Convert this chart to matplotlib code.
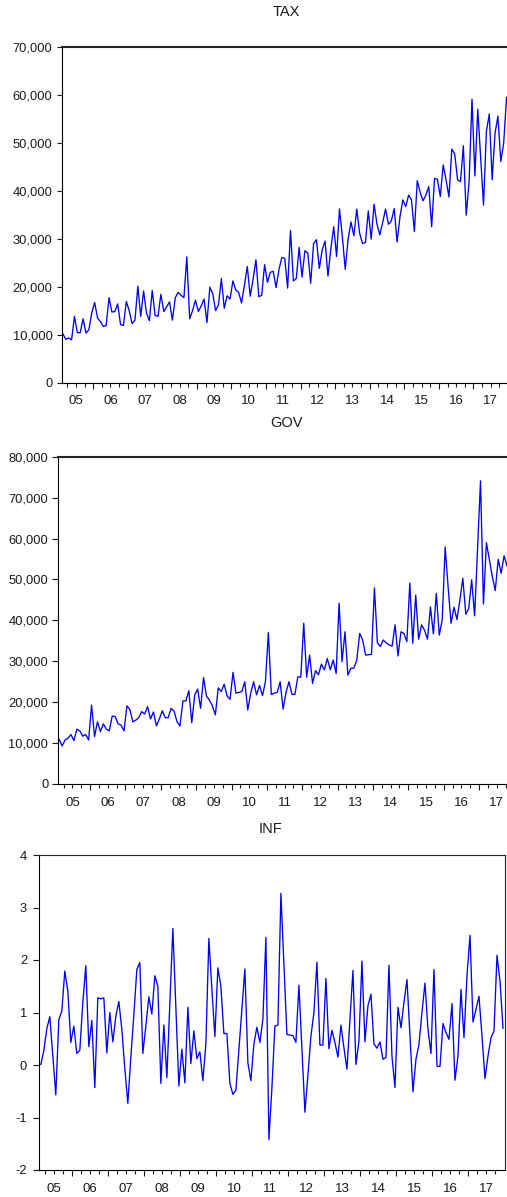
import numpy as np
import matplotlib
matplotlib.use("Agg")
import matplotlib.pyplot as plt
from matplotlib.ticker import FuncFormatter

plt.rcParams['font.family'] = ['Liberation Sans', 'DejaVu Sans']
plt.rcParams['axes.unicode_minus'] = False

# ---------------- data (monthly, 2005M2 .. 2017M12) ----------------
year_labels = ['05', '06', '07', '08', '09', '10', '11', '12', '13', '14', '15', '16', '17']

tax = [10100, 9000, 9300, 8900, 13800, 10400, 10400, 13300, 10300, 11000,
       14500, 16700, 13500, 12700, 11700, 11900, 17700, 14700, 14800, 16400,
       12100, 11900, 16900, 15000, 12300, 13000, 20100, 13800, 19100, 14500,
       12900, 19200, 14000, 13800, 18400, 14800, 15800, 16800, 13000, 17700,
       18800, 18200, 17700, 26200, 13300, 15000, 17200, 14800, 16000, 17400,
       12500, 19900, 18500, 15000, 16200, 21700, 15500, 18100, 17400, 21200,
       19300, 18800, 16600, 20300, 24200, 18000, 21500, 25600, 17900, 18200,
       24600, 20900, 23000, 23200, 19800, 23600, 26100, 25900, 19700, 31700,
       21200, 21700, 28200, 22000, 27500, 27000, 20700, 29000, 29800, 23800,
       27700, 29500, 22200, 27900, 32500, 26300, 36200, 30400, 23600, 29900,
       33500, 30600, 36200, 31100, 29000, 29200, 35800, 29900, 37200, 33100,
       30800, 33400, 36200, 33000, 33700, 36300, 29300, 34600, 38100, 36700,
       39100, 38100, 31500, 42100, 39700, 37900, 39100, 40900, 32500, 42600,
       42400, 38800, 45400, 42300, 38700, 48700, 47700, 42300, 41900, 49400,
       34900, 41900, 59100, 43100, 57000, 47000, 37000, 52400, 56000, 42300,
       52000, 55600, 46100, 49900, 59500]

gov = [10900, 9300, 10750, 11200, 12100, 10600, 13400, 13000, 11700, 12100,
       10750, 19300, 11600, 15200, 12800, 14700, 13400, 13000, 16600, 16500,
       14700, 14400, 13000, 19100, 18200, 15200, 15600, 16200, 17700, 17100,
       18900, 15900, 17600, 14200, 15900, 17900, 16200, 16200, 18500, 17800,
       15200, 14200, 20300, 20300, 22800, 15000, 21750, 23200, 18500, 26000,
       21500, 20500, 19100, 16900, 23500, 22600, 24400, 21500, 20700, 27300,
       22200, 22400, 22600, 25000, 18100, 22200, 25000, 21800, 24100, 21600,
       25000, 37000, 21900, 22200, 22400, 25000, 18300, 22400, 25000, 21900,
       21900, 26200, 26100, 39300, 26100, 31500, 24600, 27700, 26700, 29300,
       27900, 30700, 27900, 30300, 27000, 44200, 29900, 37200, 26600, 28300,
       28300, 30300, 36800, 35200, 31500, 31600, 31700, 47900, 34500, 33600,
       35200, 34500, 34000, 33700, 38900, 31300, 37200, 36800, 34800, 49100,
       34400, 46200, 35400, 38900, 37600, 35400, 43300, 36700, 46600, 36400,
       40100, 57900, 48200, 39300, 43200, 40200, 45000, 50300, 41500, 42900,
       49900, 41100, 57500, 74100, 44000, 59000, 54800, 50700, 47300, 54900,
       51500, 55800, 53300, 52000, 56000]

inf = [0.01, 0.27, 0.69, 0.92, 0.17, -0.57, 0.86, 1.03, 1.79, 1.41,
       0.43, 0.74, 0.22, 0.28, 1.19, 1.89, 0.35, 0.85, -0.43, 1.28,
       1.26, 1.28, 0.23, 1.00, 0.44, 0.93, 1.21, 0.68, -0.07, -0.73,
       0.15, 0.95, 1.82, 1.95, 0.22, 0.74, 1.30, 0.97, 1.70, 1.50,
       -0.35, 0.76, -0.24, 1.18, 2.60, 1.10, -0.40, 0.30, -0.34, 1.10,
       0.03, 0.65, 0.12, 0.25, -0.30, 0.40, 2.41, 1.45, 0.54, 1.85,
       1.50, 0.60, 0.60, -0.35, -0.56, -0.48, 0.29, 1.06, 1.83, 0.04,
       -0.30, 0.40, 0.72, 0.43, 0.87, 2.43, -1.42, -0.44, 0.74, 0.76,
       3.27, 1.90, 0.58, 0.57, 0.56, 0.43, 1.52, 0.30, -0.90, -0.19,
       0.55, 1.00, 1.96, 0.38, 0.38, 1.65, 0.31, 0.66, 0.43, 0.15,
       0.76, 0.33, -0.08, 0.86, 1.80, 0.01, 0.45, 1.98, 0.44, 1.13,
       1.35, 0.40, 0.32, 0.44, 0.11, 0.14, 1.90, 0.17, -0.43, 1.10,
       0.71, 1.19, 1.63, 0.56, -0.51, 0.11, 0.39, 1.00, 1.56, 0.68,
       0.22, 1.82, -0.02, -0.03, 0.79, 0.62, 0.49, 1.17, -0.29, 0.17,
       1.44, 0.52, 1.70, 2.47, 0.82, 1.06, 1.31, 0.55, -0.26, 0.17,
       0.52, 0.65, 2.09, 1.60, 0.70]

tax_ticks = [0, 10000, 20000, 30000, 40000, 50000, 60000, 70000]
gov_ticks = [0, 10000, 20000, 30000, 40000, 50000, 60000, 70000, 80000]
inf_ticks = [-2, -1, 0, 1, 2, 3, 4]

# ---------------- layout ----------------
W, H = 507, 1197
fig = plt.figure(figsize=(W / 100, H / 100), dpi=100)

x_start, x_end = 2005 + 1 / 12, 2018.0
n = len(tax)
x = x_start + (np.arange(n) + 0.5) * (x_end - x_start) / n

TXT = '#1a1a1a'
comma = FuncFormatter(lambda v, p: f'{v:,.0f}')
intfmt = FuncFormatter(lambda v, p: f'{v:.0f}')


def rect(l, r, t, b):
    return [l / W, 1 - b / H, (r - l) / W, (b - t) / H]


def panel(box, series, ticks, fmt, title, title_xy, ylen, ypad, top_lw, show_right):
    ax = fig.add_axes(rect(*box))
    ax.plot(x, series, color='#0000FF', lw=0.95)
    ax.set_xlim(x_start, x_end)
    ax.set_ylim(ticks[0], ticks[-1])
    ax.set_yticks(ticks)
    ax.yaxis.set_major_formatter(fmt)
    ax.set_xticks(list(range(2006, 2018)))
    ax.set_xticklabels([])
    minors = [yr + q for yr in range(2005, 2018) for q in (0.25, 0.5, 0.75)]
    ax.set_xticks(minors, minor=True)
    ax.tick_params(axis='x', which='major', direction='out', length=4.6,
                   width=0.8, color=TXT)
    ax.tick_params(axis='x', which='minor', direction='out', length=2.9,
                   width=0.8, color=TXT)
    ax.tick_params(axis='y', which='major', direction='out', length=ylen,
                   width=0.8, pad=ypad, labelsize=9.3, labelcolor=TXT, color=TXT)
    for s in ('left', 'bottom'):
        ax.spines[s].set_linewidth(0.8)
        ax.spines[s].set_color('black')
    ax.spines['top'].set_linewidth(top_lw)
    ax.spines['top'].set_color('#222222')
    ax.spines['right'].set_visible(show_right)
    ax.spines['right'].set_linewidth(0.8)
    ax.spines['right'].set_color('#222222')
    for k, lab in enumerate(year_labels):
        ax.annotate(lab, xy=(2005.5 + k, 0), xycoords=('data', 'axes fraction'),
                    xytext=(0, -13.6), textcoords='offset points',
                    ha='center', va='center', fontsize=9.5, color=TXT)
    fig.text(title_xy[0] / W, 1 - title_xy[1] / H, title, ha='center',
             va='center', fontsize=10.5, color=TXT)
    return ax


panel((61.5, 508.0, 47.0, 382.5), tax, tax_ticks, comma, 'TAX', (286.5, 11.5),
      3.6, 2.9, 1.5, False)
panel((57.7, 514.4, 456.7, 784.0), gov, gov_ticks, comma, 'GOV', (286.5, 423),
      4.3, 2.5, 1.5, False)
panel((39.3, 504.5, 855.0, 1170.0), inf, inf_ticks, intfmt, 'INF', (271, 829),
      4.3, 4.5, 0.8, True)

fig.savefig('out.png', dpi=100)
